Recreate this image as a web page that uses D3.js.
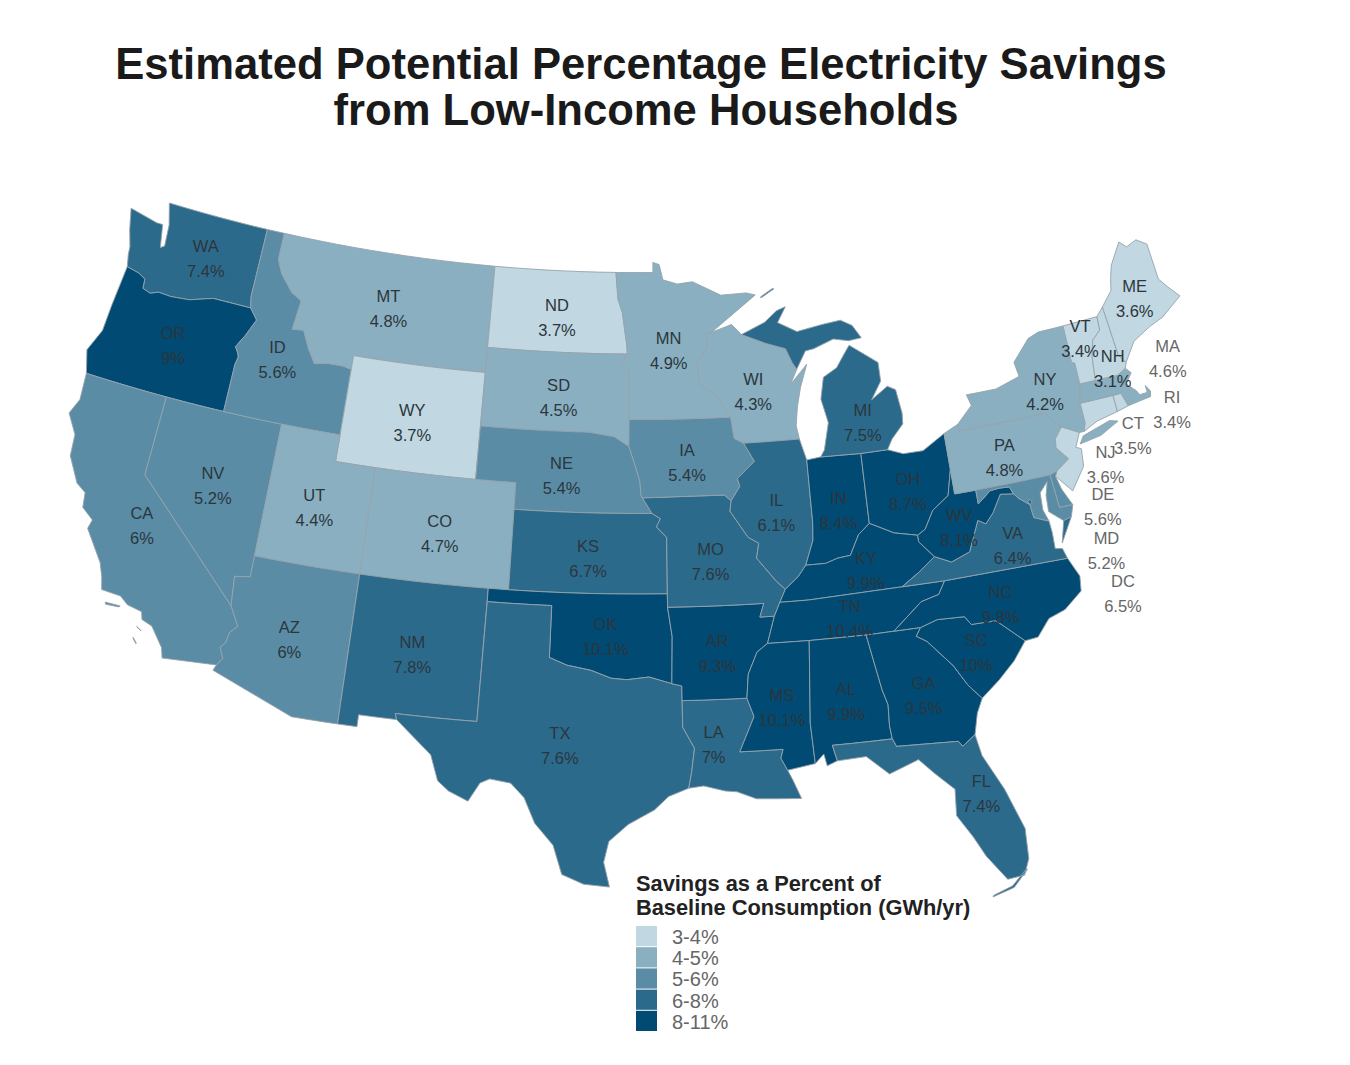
<!DOCTYPE html>
<html>
<head>
<meta charset="utf-8">
<script src="https://cdn.jsdelivr.net/npm/d3@7"></script>
<style>
  body { margin: 0; background: #fff; font-family: "Liberation Sans", Arial, sans-serif; }
  .state { stroke: #95a3ab; stroke-width: 0.9; stroke-linejoin: round; }
  .lab { font-size: 16.5px; fill: #2b363c; text-anchor: middle; }
  .lab.out { fill: #666; }
  .title { font-size: 43.6px; font-weight: bold; fill: #1a1a1a; text-anchor: middle; }
  .leg-title { font-size: 21.8px; font-weight: bold; fill: #222; }
  .leg-text { font-size: 20px; fill: #666; }
</style>
</head>
<body>
<svg id="map" width="1350" height="1065"></svg>
<script>
// Savings (%) and outlines (lon, lat) per state; v 5.98 prints as 6% but falls in the 5-6 class
const STATES = {
  WA: { v: 7.4, rings: [[[-124.7,48.38],[-123.1,48.15],[-122.75,48.15],[-122.5,47.3],[-122.3,47.4],[-122.4,48.2],[-122.75,49],[-117.03,49],[-117.04,46.42],[-116.92,45.99],[-118.98,46],[-119.3,45.93],[-120.2,45.72],[-121.2,45.65],[-121.9,45.68],[-122.3,45.55],[-122.75,45.65],[-122.8,46],[-123.2,46.15],[-123.9,46.25],[-124.05,46.7],[-124.1,47],[-124.4,47.6]]] },
  OR: { v: 9, rings: [[[-124.2,42],[-124.55,42.84],[-124.1,43.7],[-124.05,44.7],[-123.9,46.25],[-123.2,46.15],[-122.8,46],[-122.75,45.65],[-122.3,45.55],[-121.9,45.68],[-121.2,45.65],[-120.2,45.72],[-119.3,45.93],[-118.98,46],[-116.92,45.99],[-116.46,45.6],[-116.85,44.95],[-117.22,44.45],[-117.03,44.25],[-116.95,44.1],[-117.03,43.8],[-117.03,42]]] },
  CA: { v: 5.98, rings: [[[-124.2,42],[-120,42],[-120,39],[-114.63,35],[-114.14,34.3],[-114.45,34],[-114.52,33.6],[-114.72,33.4],[-114.5,33],[-114.72,32.72],[-117.12,32.53],[-117.25,32.9],[-117.9,33.6],[-118.4,33.75],[-118.5,34.03],[-119.2,34.15],[-119.6,34.4],[-120.5,34.45],[-120.65,34.9],[-120.9,35.4],[-121.9,36.5],[-121.8,36.85],[-122.4,37.2],[-122.5,37.75],[-123,38],[-123.7,38.9],[-123.8,39.7],[-124.4,40.4],[-124.1,41]],
                        [[-120.2,34.03],[-119.5,34.04],[-119.55,33.99],[-120.15,33.96]],[[-118.55,33.45],[-118.35,33.36],[-118.32,33.33],[-118.52,33.42]],[[-118.58,33.02],[-118.38,32.84],[-118.4,32.82],[-118.58,32.99]]] },
  NV: { v: 5.2, rings: [[[-120,42],[-114.04,42],[-114.04,36.2],[-114.75,36.1],[-114.63,35],[-120,39]]] },
  ID: { v: 5.6, rings: [[[-117.03,49],[-116.05,49],[-116.05,48],[-115.7,47.5],[-114.95,46.9],[-114.35,46.65],[-114.5,45.55],[-113.9,45.6],[-113.45,44.95],[-113,44.45],[-112.3,44.55],[-111.5,44.55],[-111.05,44.48],[-111.05,42],[-117.03,42],[-117.03,43.8],[-116.95,44.1],[-117.03,44.25],[-117.22,44.45],[-116.85,44.95],[-116.46,45.6],[-116.92,45.99],[-117.04,46.42]]] },
  MT: { v: 4.8, rings: [[[-116.05,49],[-104.05,49],[-104.05,45],[-111.05,45],[-111.05,44.48],[-111.5,44.55],[-112.3,44.55],[-113,44.45],[-113.45,44.95],[-113.9,45.6],[-114.5,45.55],[-114.35,46.65],[-114.95,46.9],[-115.7,47.5],[-116.05,48]]] },
  WY: { v: 3.7, rings: [[[-111.05,45],[-104.05,45],[-104.05,41],[-111.05,41]]] },
  UT: { v: 4.4, rings: [[[-114.04,42],[-111.05,42],[-111.05,41],[-109.05,41],[-109.05,37],[-114.04,37]]] },
  CO: { v: 4.7, rings: [[[-109.05,41],[-102.05,41],[-102.05,37],[-109.05,37]]] },
  AZ: { v: 5.98, rings: [[[-114.04,37],[-109.05,37],[-109.05,31.33],[-111.07,31.33],[-114.82,32.5],[-114.72,32.72],[-114.5,33],[-114.72,33.4],[-114.52,33.6],[-114.45,34],[-114.14,34.3],[-114.63,35],[-114.75,36.1],[-114.04,36.2]]] },
  NM: { v: 7.8, rings: [[[-109.05,37],[-103,37],[-103.04,32],[-106.62,32],[-106.53,31.78],[-108.2,31.78],[-108.2,31.33],[-109.05,31.33]]] },
  ND: { v: 3.7, rings: [[[-104.05,49],[-97.23,49],[-97.1,48],[-96.85,47.5],[-96.6,46.3],[-96.56,45.94],[-104.05,45.94]]] },
  SD: { v: 4.5, rings: [[[-104.05,45.94],[-96.56,45.94],[-96.85,45.6],[-96.45,45.3],[-96.45,43.5],[-96.45,42.49],[-97.2,42.85],[-98.5,43],[-104.05,43]]] },
  NE: { v: 5.4, rings: [[[-104.05,43],[-98.5,43],[-97.2,42.85],[-96.45,42.49],[-96.1,41.7],[-95.9,41.2],[-95.85,40.7],[-95.77,40.58],[-95.31,40],[-102.05,40],[-102.05,41],[-104.05,41]]] },
  KS: { v: 6.7, rings: [[[-102.05,40],[-95.31,40],[-94.9,39.8],[-95.1,39.5],[-94.61,39.1],[-94.62,37],[-102.05,37]]] },
  OK: { v: 10.1, rings: [[[-103,37],[-94.62,37],[-94.62,36.5],[-94.43,35.4],[-94.48,33.64],[-95.5,33.9],[-96.5,33.8],[-97.2,33.85],[-98.1,34.13],[-99.2,34.3],[-100,34.56],[-100,36.5],[-103,36.5]]] },
  TX: { v: 7.6, rings: [[[-103,36.5],[-100,36.5],[-100,34.56],[-99.2,34.3],[-98.1,34.13],[-97.2,33.85],[-96.5,33.8],[-95.5,33.9],[-94.48,33.64],[-94.04,33.55],[-94.04,32],[-93.55,31.2],[-93.7,30.3],[-93.84,29.7],[-94.7,29.4],[-95.3,28.9],[-96.4,28.35],[-97.2,27.7],[-97.4,26.9],[-97.15,25.96],[-98.2,26.05],[-99.1,26.4],[-99.5,27.5],[-100.3,28.3],[-100.8,29.25],[-101.4,29.77],[-102.3,29.88],[-102.7,29.7],[-103.15,28.98],[-104,29.3],[-104.5,29.65],[-104.9,30.6],[-106,31.4],[-106.53,31.78],[-106.62,32],[-103.04,32]]] },
  LA: { v: 7, rings: [[[-94.04,33],[-91.17,33],[-90.9,32.3],[-91.6,31],[-89.73,31],[-89.85,30.67],[-89.6,30.2],[-89.4,29.8],[-89.1,29.1],[-90.1,29.15],[-91,29.2],[-91.8,29.5],[-92.3,29.55],[-93.2,29.77],[-93.84,29.7],[-93.7,30.3],[-93.55,31.2],[-94.04,32]]] },
  AR: { v: 9.3, rings: [[[-94.62,36.5],[-90.15,36.5],[-90.37,36],[-89.7,36],[-90.1,35],[-90.6,34.7],[-91.05,33.9],[-91.17,33],[-94.04,33],[-94.04,33.55],[-94.48,33.64],[-94.43,35.4]]] },
  MO: { v: 7.6, rings: [[[-95.77,40.58],[-91.73,40.61],[-91.42,40.38],[-91.5,40],[-90.7,39],[-90.2,38.75],[-90.35,38.2],[-89.5,37.3],[-89.1,36.97],[-89.4,36.5],[-89.7,36],[-90.37,36],[-90.15,36.5],[-94.62,36.5],[-94.62,37],[-94.61,39.1],[-95.1,39.5],[-94.9,39.8],[-95.31,40]]] },
  IA: { v: 5.4, rings: [[[-96.45,43.5],[-91.22,43.5],[-91.1,42.7],[-90.64,42.5],[-90.15,41.8],[-91.05,41.2],[-90.95,40.9],[-91.42,40.38],[-91.73,40.61],[-95.77,40.58],[-95.85,40.7],[-95.9,41.2],[-96.1,41.7],[-96.45,42.49]]] },
  MN: { v: 4.9, rings: [[[-97.23,49],[-95.15,49],[-95.15,49.38],[-94.8,49.3],[-94.6,48.72],[-93.8,48.55],[-92.95,48.62],[-91.4,48.07],[-90,48.1],[-89.5,48],[-92,46.7],[-92.29,46.66],[-92.29,46.1],[-92.85,45.6],[-92.75,44.75],[-91.9,44.3],[-91.22,43.5],[-96.45,43.5],[-96.45,45.3],[-96.85,45.6],[-96.56,45.94],[-96.6,46.3],[-96.85,47.5],[-97.1,48]]] },
  WI: { v: 4.3, rings: [[[-92.29,46.66],[-92,46.7],[-90.9,46.95],[-90.4,46.55],[-89.1,46.15],[-88.1,45.9],[-87.8,45.35],[-87.6,45.1],[-88,44.55],[-87.05,45.25],[-87.5,44.4],[-87.75,43.7],[-87.9,43],[-87.8,42.5],[-90.64,42.5],[-91.1,42.7],[-91.22,43.5],[-91.9,44.3],[-92.75,44.75],[-92.85,45.6],[-92.29,46.1]]] },
  IL: { v: 6.1, rings: [[[-90.64,42.5],[-87.8,42.5],[-87.53,41.7],[-87.53,39.35],[-87.6,38.7],[-88.05,37.8],[-88.45,37.4],[-89.1,36.97],[-89.5,37.3],[-90.35,38.2],[-90.2,38.75],[-90.7,39],[-91.5,40],[-91.42,40.38],[-90.95,40.9],[-91.05,41.2],[-90.15,41.8]]] },
  IN: { v: 8.4, rings: [[[-87.53,41.7],[-86.82,41.76],[-84.8,41.72],[-84.82,39.1],[-85.4,38.73],[-85.9,38],[-86.5,37.95],[-87.1,37.8],[-88.05,37.8],[-87.6,38.7],[-87.53,39.35]]] },
  OH: { v: 8.7, rings: [[[-84.8,41.72],[-83.45,41.73],[-82.7,41.5],[-81.7,41.5],[-80.52,42],[-80.52,40.64],[-80.85,39.7],[-81.7,39.25],[-82.2,38.6],[-82.6,38.42],[-83.7,38.63],[-84.82,39.1]]] },
  KY: { v: 9.9, rings: [[[-89.4,36.5],[-88.05,36.5],[-83.68,36.6],[-82.8,37.05],[-81.97,37.54],[-82.6,38.17],[-82.6,38.42],[-83.7,38.63],[-84.82,39.1],[-85.4,38.73],[-85.9,38],[-86.5,37.95],[-87.1,37.8],[-88.05,37.8],[-88.45,37.4],[-89.1,36.97]]] },
  TN: { v: 10.4, rings: [[[-89.7,36],[-89.4,36.5],[-88.05,36.5],[-83.68,36.6],[-81.68,36.59],[-82.05,36.12],[-82.9,35.95],[-84.32,35],[-85.6,34.98],[-88.2,34.99],[-90.1,35]]] },
  MS: { v: 10.1, rings: [[[-90.1,35],[-88.2,34.99],[-88.47,31.9],[-88.4,30.37],[-89.6,30.2],[-89.85,30.67],[-89.73,31],[-91.6,31],[-90.9,32.3],[-91.17,33],[-91.05,33.9],[-90.6,34.7]]] },
  AL: { v: 9.9, rings: [[[-88.2,34.99],[-85.6,34.98],[-85.18,32.87],[-85,32.3],[-85.05,31.5],[-85,31],[-87.6,31],[-87.45,30.4],[-87.9,30.25],[-88,30.7],[-88.4,30.37],[-88.47,31.9]]] },
  GA: { v: 9.5, rings: [[[-85.6,34.98],[-83.1,35],[-83.35,34.7],[-82.9,34.45],[-81.9,33.4],[-81.4,32.6],[-80.88,32.03],[-81.2,31.5],[-81.45,30.72],[-82.05,30.36],[-82.2,30.57],[-84.86,30.7],[-85,31],[-85.05,31.5],[-85,32.3],[-85.18,32.87]]] },
  FL: { v: 7.4, rings: [[[-87.6,31],[-85,31],[-84.86,30.7],[-82.2,30.57],[-82.05,30.36],[-81.45,30.72],[-81.3,29.9],[-80.6,28.5],[-80.05,26.9],[-80.12,25.75],[-80.4,25.15],[-81.1,25.1],[-81.8,26.1],[-82.2,26.9],[-82.75,27.8],[-82.65,28.8],[-83.4,29.5],[-84,30.1],[-85.3,29.7],[-86.2,30.45],[-87.45,30.4]],
                       [[-80.25,25.35],[-80.9,24.75],[-81.8,24.52],[-81.75,24.58],[-80.95,24.82],[-80.32,25.35]]] },
  SC: { v: 10, rings: [[[-83.1,35],[-82.3,35.2],[-81.05,35.15],[-80.8,34.82],[-79.67,34.8],[-78.55,33.86],[-79.2,33.2],[-80,32.6],[-80.88,32.03],[-81.4,32.6],[-81.9,33.4],[-82.9,34.45],[-83.35,34.7]]] },
  NC: { v: 9.8, rings: [[[-84.32,35],[-83.1,35],[-82.3,35.2],[-81.05,35.15],[-80.8,34.82],[-79.67,34.8],[-78.55,33.86],[-77.95,33.9],[-77.3,34.5],[-76.5,34.7],[-75.6,35.25],[-75.5,35.8],[-75.87,36.55],[-81.68,36.59],[-82.05,36.12],[-82.9,35.95]]] },
  VA: { v: 6.4, rings: [[[-83.68,36.6],[-81.68,36.59],[-75.87,36.55],[-76,36.95],[-76.33,37],[-76.3,37.6],[-76.33,38.05],[-77,38.3],[-77.05,38.8],[-77.5,39.1],[-77.72,39.32],[-78.35,39.4],[-78.87,38.77],[-79.3,38.42],[-79.65,38.6],[-80.3,37.5],[-81.22,37.24],[-81.97,37.54],[-82.8,37.05]],
                        [[-75.95,37.15],[-75.65,37.95],[-75.25,38.03]]] },
  WV: { v: 8.1, rings: [[[-80.52,40.64],[-80.52,39.72],[-79.48,39.72],[-79.48,39.2],[-78.8,39.6],[-78.35,39.63],[-77.85,39.6],[-77.72,39.32],[-78.35,39.4],[-78.87,38.77],[-79.3,38.42],[-79.65,38.6],[-80.3,37.5],[-81.22,37.24],[-81.97,37.54],[-82.6,38.17],[-82.6,38.42],[-82.2,38.6],[-81.7,39.25],[-80.85,39.7]]] },
  PA: { v: 4.8, rings: [[[-80.52,42],[-79.76,42.25],[-79.76,42],[-75.35,42],[-74.7,41.36],[-75.13,40.98],[-75.2,40.65],[-74.72,40.15],[-75.42,39.8],[-75.79,39.72],[-80.52,39.72]]] },
  NY: { v: 4.2, rings: [[[-79.76,42.25],[-78.9,42.85],[-79.05,43.27],[-77.5,43.27],[-76.2,43.55],[-76.3,44.1],[-75.3,44.85],[-74.7,45],[-73.35,45],[-73.4,43.6],[-73.25,43.55],[-73.27,42.75],[-73.5,42.05],[-73.5,41.3],[-73.65,41],[-73.9,41],[-74.7,41.36],[-75.35,42],[-79.76,42]],
                        [[-74,40.58],[-73.75,40.85],[-72.3,41.15],[-71.9,41.05],[-72.9,40.7]]] },
  NJ: { v: 3.6, rings: [[[-74.7,41.36],[-73.9,41],[-74.25,40.5],[-74,40.4],[-74.1,39.75],[-74.9,38.95],[-75.55,39.63],[-75.42,39.8],[-74.72,40.15],[-75.2,40.65],[-75.13,40.98]]] },
  DE: { v: 5.6, rings: [[[-75.79,39.72],[-75.42,39.8],[-75.55,39.63],[-75.4,39.1],[-75.05,38.45],[-75.7,38.46]]] },
  MD: { v: 5.2, rings: [[[-79.48,39.72],[-75.79,39.72],[-75.7,38.46],[-75.05,38.45],[-75.25,38.03],[-75.65,37.95],[-76.25,38.4],[-76.2,39],[-76,39.5],[-76.45,39.15],[-76.5,38.5],[-76.33,38.05],[-77,38.3],[-77.05,38.8],[-77.5,39.1],[-77.72,39.32],[-77.85,39.6],[-78.35,39.63],[-78.8,39.6],[-79.48,39.2]]] },
  DC: { v: 6.5, rings: [[[-77.12,38.93],[-77.04,39],[-76.91,38.89],[-77.04,38.79]]] },
  CT: { v: 3.5, rings: [[[-73.5,42.05],[-71.8,42.02],[-71.8,41.4],[-72.9,41.25],[-73.65,41],[-73.5,41.3]]] },
  RI: { v: 3.4, rings: [[[-71.8,42.02],[-71.38,42.02],[-71.2,41.5],[-71.8,41.4]]] },
  MA: { v: 4.6, rings: [[[-73.5,42.05],[-73.27,42.75],[-72.46,42.73],[-71.3,42.7],[-70.82,42.87],[-70.6,42.65],[-71,42.3],[-70.6,41.95],[-70.5,41.78],[-70.1,41.78],[-70.1,42.05],[-69.93,41.8],[-70,41.6],[-70.6,41.55],[-71.2,41.5],[-71.38,42.02],[-71.8,42.02]]] },
  VT: { v: 3.4, rings: [[[-73.35,45],[-71.5,45.01],[-71.55,44.5],[-72.05,44.2],[-72.3,43.6],[-72.46,42.73],[-73.27,42.75],[-73.25,43.55],[-73.4,43.6]]] },
  NH: { v: 3.1, rings: [[[-71.5,45.01],[-71.08,45.3],[-70.98,43.4],[-70.7,43.07],[-70.82,42.87],[-71.3,42.7],[-72.46,42.73],[-72.3,43.6],[-72.05,44.2],[-71.55,44.5]]] },
  ME: { v: 3.6, rings: [[[-71.08,45.3],[-70.4,45.8],[-70.25,46.2],[-70,46.7],[-69.23,47.46],[-68.9,47.2],[-68.3,47.35],[-67.8,47.07],[-67.8,45.7],[-67.45,45.3],[-67,44.85],[-68.2,44.3],[-69,44.1],[-70,43.75],[-70.7,43.07],[-70.98,43.4]]] },
  MI: { v: 7.5, rings: [[[-86.82,41.76],[-84.8,41.72],[-83.45,41.73],[-83.15,42.1],[-82.5,42.6],[-82.45,43],[-82.6,43.9],[-83,44.07],[-83.9,43.65],[-83.3,44.3],[-83.3,45],[-84.7,45.78],[-85.1,45.4],[-85.5,45],[-86.25,44.7],[-86.5,43.9],[-86.25,43],[-86.6,42]],
                        [[-90.4,46.55],[-89.1,46.95],[-88.4,47.35],[-87.9,47.47],[-88.4,46.9],[-87.4,46.5],[-86,46.67],[-85,46.75],[-84.4,46.5],[-84,46],[-84.7,45.95],[-85.5,46.08],[-86.6,45.8],[-87.05,45.75],[-87.6,45.1],[-87.8,45.35],[-88.1,45.9],[-89.1,46.15]],
                        [[-89.2,47.87],[-88.45,48.17],[-88.5,48.2],[-89.2,47.92]]] }
};

// Label shift from the state's centroid, in px, to sit where the original has it
const NUDGE = {
  WA:[9,3], OR:[3,2], CA:[-1,1], NV:[-2,3], ID:[-6,0], MT:[0,3.5], WY:[0,4.5], UT:[-1,4], CO:[0,4.5], AZ:[-2.5,3],
  NM:[-2,4], ND:[0.5,6], SD:[1.5,6], NE:[-0.5,6], KS:[0,6], OK:[0,6], TX:[-2.5,5], LA:[-19,-7], AR:[1,5], MO:[-1,6],
  IA:[-0.5,6], MN:[-1.5,6.5], WI:[1,6], IL:[-0.5,5.5], IN:[2,5], OH:[2,5], KY:[2.5,4], TN:[1,5.5], MS:[0.5,4.5], AL:[1,6.5],
  GA:[1,4.5], FL:[19.5,0], SC:[1.5,4], NC:[-3.5,7], VA:[13,1], WV:[1.5,6], PA:[1,5], NY:[9,3], MI:[20.5,35.5], ME:[0,2.5],
  VT:[-2.5,-8], NH:[7,17], MA:[56,-30], RI:[52,8], CT:[35,26], NJ:[36,8], DE:[43,14], MD:[72,54], DC:[93,92]
};
const OFFSHORE = new Set(["MA", "RI", "CT", "NJ", "DE", "MD", "DC"]);

const LEGEND = ["3-4%", "4-5%", "5-6%", "6-8%", "8-11%"];
const color = d3.scaleThreshold()
  .domain([4, 5, 6, 8])
  .range(["#c1d7e1", "#8aafc1", "#5a8ca6", "#2c6a8c", "#004a73"]);

// Long edges along a parallel need extra vertices or they come out as great arcs
function dense(ring) {
  const out = [];
  ring.forEach((p, i) => {
    const q = ring[(i + 1) % ring.length];
    out.push(p);
    if (p[1] === q[1] && Math.abs(p[0] - q[0]) > 1) {
      const n = Math.ceil(Math.abs(p[0] - q[0]));
      d3.range(1, n).forEach(k => out.push([p[0] + (q[0] - p[0]) * k / n, p[1]]));
    }
  });
  out.push(out[0].slice());
  return out;
}
function toPolygon(ring) {
  const r = dense(ring);
  if (d3.geoArea({ type: "Polygon", coordinates: [r] }) > 2 * Math.PI) r.reverse();
  return [r];
}

const features = Object.entries(STATES).map(([id, s]) => ({
  type: "Feature",
  id,
  v: s.v,
  geometry: { type: "MultiPolygon", coordinates: s.rings.map(toPolygon) }
}));
const fc = { type: "FeatureCollection", features };

const projection = d3.geoConicEqualArea()
  .parallels([33, 47])
  .rotate([96, 0])
  .fitExtent([[66, 203], [1183, 897]], fc);

// The original map runs about 1% wider than a true conic
const stretch = d3.geoTransform({
  point(x, y) { this.stream.point(625 + (x - 625) * 1.01, y); }
});
const path = d3.geoPath({ stream: s => projection.stream(stretch.stream(s)) });

const svg = d3.select("#map");

svg.selectAll(".title")
  .data([["Estimated Potential Percentage Electricity Savings", 641], ["from Low-Income Households", 646]])
  .join("text")
  .attr("class", "title")
  .attr("x", d => d[1])
  .attr("y", (d, i) => 79 + i * 46)
  .text(d => d[0]);

svg.selectAll(".state")
  .data(features)
  .join("path")
  .attr("class", "state")
  .attr("d", path)
  .attr("fill", d => color(d.v));

// State labels: name, then value below
const fmt = v => +v.toFixed(1) + "%";
const labG = svg.append("g");
features.forEach(f => {
  const [x, y] = path.centroid(f);
  const [dx, dy] = NUDGE[f.id];
  const g = labG.append("g").attr("transform", `translate(${x + dx},${y + dy})`);
  const cls = OFFSHORE.has(f.id) ? "lab out" : "lab";
  g.append("text").attr("class", cls).attr("y", -7).text(f.id);
  g.append("text").attr("class", cls).attr("y", 18).text(fmt(f.v));
});

// Legend
const legY = d3.scaleBand().domain(LEGEND).range([926, 1032]);
const legG = svg.append("g");
legG.selectAll("text.leg-title")
  .data(["Savings as a Percent of", "Baseline Consumption (GWh/yr)"])
  .join("text")
  .attr("class", "leg-title")
  .attr("x", 636)
  .attr("y", (d, i) => 891 + i * 24)
  .text(d => d);
legG.selectAll("rect")
  .data(LEGEND)
  .join("rect")
  .attr("x", 636)
  .attr("y", d => legY(d))
  .attr("width", 21)
  .attr("height", legY.bandwidth() - 1)
  .attr("fill", (d, i) => color.range()[i]);
legG.selectAll("text.leg-text")
  .data(LEGEND)
  .join("text")
  .attr("class", "leg-text")
  .attr("x", 672)
  .attr("y", d => legY(d) + 18)
  .text(d => d);
</script>
</body>
</html>
